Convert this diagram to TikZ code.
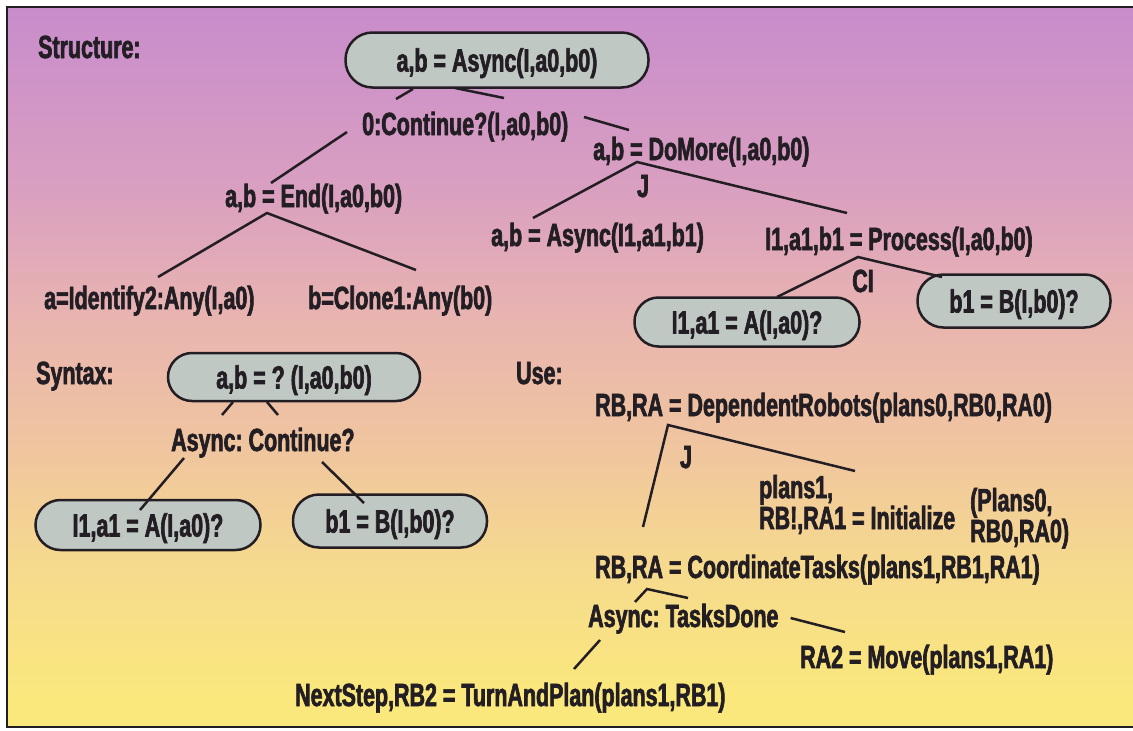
\documentclass[tikz,border=0pt]{standalone}
\usepackage{fontspec}
\setmainfont{Liberation Sans}[FakeStretch=0.67, BoldFeatures={FakeBold=2}]
\usetikzlibrary{calc}
\definecolor{inkdark}{RGB}{35,30,35}
\definecolor{pillgray}{RGB}{192,200,196}
\definecolor{bgviolet}{RGB}{200,140,204}
\definecolor{bgmauve}{RGB}{218,160,192}
\definecolor{bgpink}{RGB}{233,181,175}
\definecolor{bgpeach}{RGB}{240,198,158}
\definecolor{bglemon}{RGB}{246,218,142}
\definecolor{bgyellow}{RGB}{250,232,124}
\pgfdeclareverticalshading{paper}{100bp}{color(0bp)=(bgyellow); color(27bp)=(bgyellow);
  color(36bp)=(bglemon); color(44bp)=(bgpeach); color(53bp)=(bgpink);
  color(62bp)=(bgmauve); color(75bp)=(bgviolet); color(100bp)=(bgviolet)}
\tikzset{
  txt/.style  = {inner sep=0pt, anchor=base west, text=inkdark, font=\bfseries\fontsize{32}{27}\selectfont\frenchspacing},
  pill/.style n args = {3}{draw=inkdark, fill=pillgray, line width=2.5pt, rounded corners=#3,
                 minimum width=#1, minimum height=#2, inner sep=0pt, text height=23pt, text depth=0pt,
                 text=inkdark, font=\bfseries\fontsize{32}{27}\selectfont\frenchspacing},
  link/.style = {draw=inkdark, line width=2.5pt},
}

\begin{document}
\begin{tikzpicture}[x=1pt, y=-1pt]
  \path[use as bounding box] (0,0) rectangle (1133,731);
  \shadedraw[shading=paper, draw=inkdark, line width=1.5pt] (7,7) rectangle (1145,727);

  % structure
  \node[txt] (tstruct) at (38,58) {Structure:};
  \node[pill={303pt}{55pt}{27pt}] (asyncab) at (497,60) {a,b = Async(I,a0,b0)};
  \node[txt] (cont) at (362,135) {0:Continue?(I,a0,b0)};
  \node[txt] (domore) at (593,160) {a,b = DoMore(I,a0,b0)};
  \node[txt, anchor=base] (jstruct) at (643,197) {J};
  \node[txt] (endn) at (225,207) {a,b = End(I,a0,b0)};
  \node[txt] (asyncone) at (491,246) {a,b = Async(I1,a1,b1)};
  \node[txt] (process) at (765,250) {I1,a1,b1 = Process(I,a0,b0)};
  \node[txt, anchor=base] (ci) at (863,292) {CI};
  \node[txt] (ident) at (44,309) {a=Identify2:Any(I,a0)};
  \node[txt] (clone) at (308,309) {b=Clone1:Any(b0)};
  \node[pill={225pt}{49pt}{24pt}] (pa) at (747,322) {I1,a1 = A(I,a0)?};
  \node[pill={193pt}{53pt}{26pt}] (pb) at (1014,301) {b1 = B(I,b0)?};

  \draw[link] ($(asyncab)+(-84,29)$) -- ($(cont.base west)+(34,-36)$);
  \draw[link] ($(asyncab)+(-42,28)$) -- ($(cont.base west)+(142,-37)$);
  \draw[link] ($(cont.base west)+(-15,-3)$) -- ($(endn.base west)+(46,-24)$);
  \draw[link] ($(cont.base west)+(222,-18)$) -- ($(domore.base west)+(36,-30)$);
  \draw[link] ($(ident.base west)+(114,-32)$) -- ($(endn.base west)+(42,6)$) -- ($(clone.base west)+(108,-39)$);
  \draw[link] ($(asyncone.base west)+(42,-28)$) -- ($(domore.base west)+(44,2)$) -- ($(process.base west)+(82,-37)$);
  \draw[link] ($(pa)+(30,-25)$) -- ($(process.base west)+(93,7)$) -- ($(pb)+(-72,-24)$);

  % syntax
  \node[txt] (tsyntax) at (36,384) {Syntax:};
  \node[pill={252pt}{48pt}{24pt}] (pq) at (294,377) {a,b = ? (I,a0,b0)};
  \node[txt] (syncont) at (171,451) {Async: Continue?};
  \node[pill={225pt}{50pt}{25pt}] (qa) at (148,525) {I1,a1 = A(I,a0)?};
  \node[pill={194pt}{53pt}{26pt}] (qb) at (390,521) {b1 = B(I,b0)?};

  \draw[link] ($(pq)+(-61,25)$) -- ($(syncont.base west)+(51,-36)$);
  \draw[link] ($(pq)+(-27,25)$) -- ($(syncont.base west)+(107,-36)$);
  \draw[link] ($(syncont.base west)+(13,7)$) -- ($(qa)+(-8,-15)$);
  \draw[link] ($(syncont.base west)+(151,11)$) -- ($(qb)+(-26,-18)$);

  % use
  \node[txt] (tuse) at (516,384) {Use:};
  \node[txt] (dep) at (595,416) {RB,RA = DependentRobots(plans0,RB0,RA0)};
  \node[txt, anchor=base] (juse) at (686,468) {J};
  \node[txt, align=left] (init) at (759,529) {plans1,\\RB!,RA1 = Initialize};
  \node[txt, align=left] (initargs) at (970,542) {(Plans0,\\RB0,RA0)};
  \node[txt] (coord) at (595,578) {RB,RA = CoordinateTasks(plans1,RB1,RA1)};
  \node[txt] (tasks) at (588,627) {Async: TasksDone};
  \node[txt] (move) at (800,668) {RA2 = Move(plans1,RA1)};
  \node[txt] (turn) at (295,706) {NextStep,RB2 = TurnAndPlan(plans1,RB1)};

  \draw[link] ($(coord.base west)+(48,-51)$) -- ($(dep.base west)+(73,9)$) -- ($(init.base west)+(96,-58)$);
  \draw[link] ($(tasks.base west)+(47,-25)$) -- ($(coord.base west)+(52,11)$) -- ($(tasks.base west)+(100,-29)$);
  \draw[link] ($(tasks.base west)+(12,13)$) -- ($(turn.base west)+(279,-37)$);
  \draw[link] ($(tasks.base east)+(12,-9)$) -- ($(move.base west)+(45,-36)$);
\end{tikzpicture}
\end{document}
